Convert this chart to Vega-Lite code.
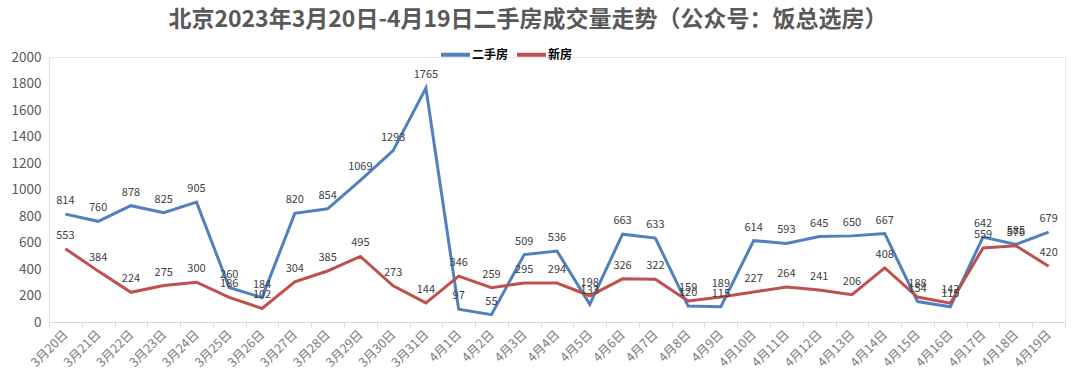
{
  "$schema": "https://vega.github.io/schema/vega-lite/v6.json",
  "width": 1016,
  "height": 265,
  "autosize": {"type": "none"},
  "padding": {"left": 49, "top": 57, "right": 15, "bottom": 69},
  "background": "#ffffff",
  "title": {
    "text": "北京2023年3月20日-4月19日二手房成交量走势（公众号：饭总选房）",
    "fontSize": 23,
    "fontWeight": "bold",
    "color": "#595959",
    "font": "Noto Sans CJK SC",
    "anchor": "middle",
    "dx": -29,
    "offset": 6
  },
  "config": {
    "font": "Noto Sans CJK SC",
    "view": {"stroke": "#e3e8f0", "strokeWidth": 1}
  },
  "data": {
    "values": [
      {"date": "3月20日", "type": "二手房", "value": 814},
      {"date": "3月21日", "type": "二手房", "value": 760},
      {"date": "3月22日", "type": "二手房", "value": 878},
      {"date": "3月23日", "type": "二手房", "value": 825},
      {"date": "3月24日", "type": "二手房", "value": 905},
      {"date": "3月25日", "type": "二手房", "value": 260},
      {"date": "3月26日", "type": "二手房", "value": 184},
      {"date": "3月27日", "type": "二手房", "value": 820},
      {"date": "3月28日", "type": "二手房", "value": 854},
      {"date": "3月29日", "type": "二手房", "value": 1069},
      {"date": "3月30日", "type": "二手房", "value": 1293},
      {"date": "3月31日", "type": "二手房", "value": 1765},
      {"date": "4月1日", "type": "二手房", "value": 97},
      {"date": "4月2日", "type": "二手房", "value": 55},
      {"date": "4月3日", "type": "二手房", "value": 509},
      {"date": "4月4日", "type": "二手房", "value": 536},
      {"date": "4月5日", "type": "二手房", "value": 133},
      {"date": "4月6日", "type": "二手房", "value": 663},
      {"date": "4月7日", "type": "二手房", "value": 633},
      {"date": "4月8日", "type": "二手房", "value": 120},
      {"date": "4月9日", "type": "二手房", "value": 115},
      {"date": "4月10日", "type": "二手房", "value": 614},
      {"date": "4月11日", "type": "二手房", "value": 593},
      {"date": "4月12日", "type": "二手房", "value": 645},
      {"date": "4月13日", "type": "二手房", "value": 650},
      {"date": "4月14日", "type": "二手房", "value": 667},
      {"date": "4月15日", "type": "二手房", "value": 154},
      {"date": "4月16日", "type": "二手房", "value": 115},
      {"date": "4月17日", "type": "二手房", "value": 642},
      {"date": "4月18日", "type": "二手房", "value": 585},
      {"date": "4月19日", "type": "二手房", "value": 679},
      {"date": "3月20日", "type": "新房", "value": 553},
      {"date": "3月21日", "type": "新房", "value": 384},
      {"date": "3月22日", "type": "新房", "value": 224},
      {"date": "3月23日", "type": "新房", "value": 275},
      {"date": "3月24日", "type": "新房", "value": 300},
      {"date": "3月25日", "type": "新房", "value": 186},
      {"date": "3月26日", "type": "新房", "value": 102},
      {"date": "3月27日", "type": "新房", "value": 304},
      {"date": "3月28日", "type": "新房", "value": 385},
      {"date": "3月29日", "type": "新房", "value": 495},
      {"date": "3月30日", "type": "新房", "value": 273},
      {"date": "3月31日", "type": "新房", "value": 144},
      {"date": "4月1日", "type": "新房", "value": 346},
      {"date": "4月2日", "type": "新房", "value": 259},
      {"date": "4月3日", "type": "新房", "value": 295},
      {"date": "4月4日", "type": "新房", "value": 294},
      {"date": "4月5日", "type": "新房", "value": 198},
      {"date": "4月6日", "type": "新房", "value": 326},
      {"date": "4月7日", "type": "新房", "value": 322},
      {"date": "4月8日", "type": "新房", "value": 159},
      {"date": "4月9日", "type": "新房", "value": 189},
      {"date": "4月10日", "type": "新房", "value": 227},
      {"date": "4月11日", "type": "新房", "value": 264},
      {"date": "4月12日", "type": "新房", "value": 241},
      {"date": "4月13日", "type": "新房", "value": 206},
      {"date": "4月14日", "type": "新房", "value": 408},
      {"date": "4月15日", "type": "新房", "value": 188},
      {"date": "4月16日", "type": "新房", "value": 142},
      {"date": "4月17日", "type": "新房", "value": 559},
      {"date": "4月18日", "type": "新房", "value": 576},
      {"date": "4月19日", "type": "新房", "value": 420}
    ]
  },
  "encoding": {
    "x": {
      "field": "date",
      "type": "nominal",
      "sort": null,
      "scale": {"type": "band", "paddingInner": 0, "paddingOuter": 0},
      "axis": {
        "title": null,
        "labelAngle": -45,
        "labelAlign": "right",
        "labelBaseline": "middle",
        "labelFontSize": 12.5,
        "labelColor": "#7a7a7a",
        "labelPadding": 5,
        "domainColor": "#d9d9d9",
        "tickColor": "#d9d9d9",
        "tickSize": 5,
        "tickBand": "extent",
        "grid": false
      }
    },
    "y": {
      "field": "value",
      "type": "quantitative",
      "scale": {"domain": [0, 2000], "nice": false},
      "axis": {
        "title": null,
        "format": "d",
        "values": [0, 200, 400, 600, 800, 1000, 1200, 1400, 1600, 1800, 2000],
        "labelFontSize": 13.5,
        "labelColor": "#595959",
        "labelPadding": 8,
        "ticks": false,
        "grid": false,
        "domainColor": "#dde3ec"
      }
    },
    "color": {
      "field": "type",
      "type": "nominal",
      "sort": ["二手房", "新房"],
      "scale": {"domain": ["二手房", "新房"], "range": ["#4f81bd", "#c0504d"]},
      "legend": {
        "title": null,
        "orient": "none",
        "direction": "horizontal",
        "legendX": 390,
        "legendY": -19,
        "symbolType": "stroke",
        "symbolSize": 841,
        "symbolStrokeWidth": 4,
        "labelFontSize": 12,
        "labelFontWeight": "bold",
        "labelColor": "#000000",
        "labelOffset": 0,
        "columnPadding": 0
      }
    }
  },
  "layer": [
    {
      "mark": {"type": "line", "strokeWidth": 3}
    },
    {
      "mark": {"type": "text", "baseline": "bottom", "dy": -8, "fontSize": 11, "color": "#404040"},
      "encoding": {
        "text": {"field": "value", "type": "quantitative"},
        "color": {"value": "#404040"}
      }
    }
  ]
}
